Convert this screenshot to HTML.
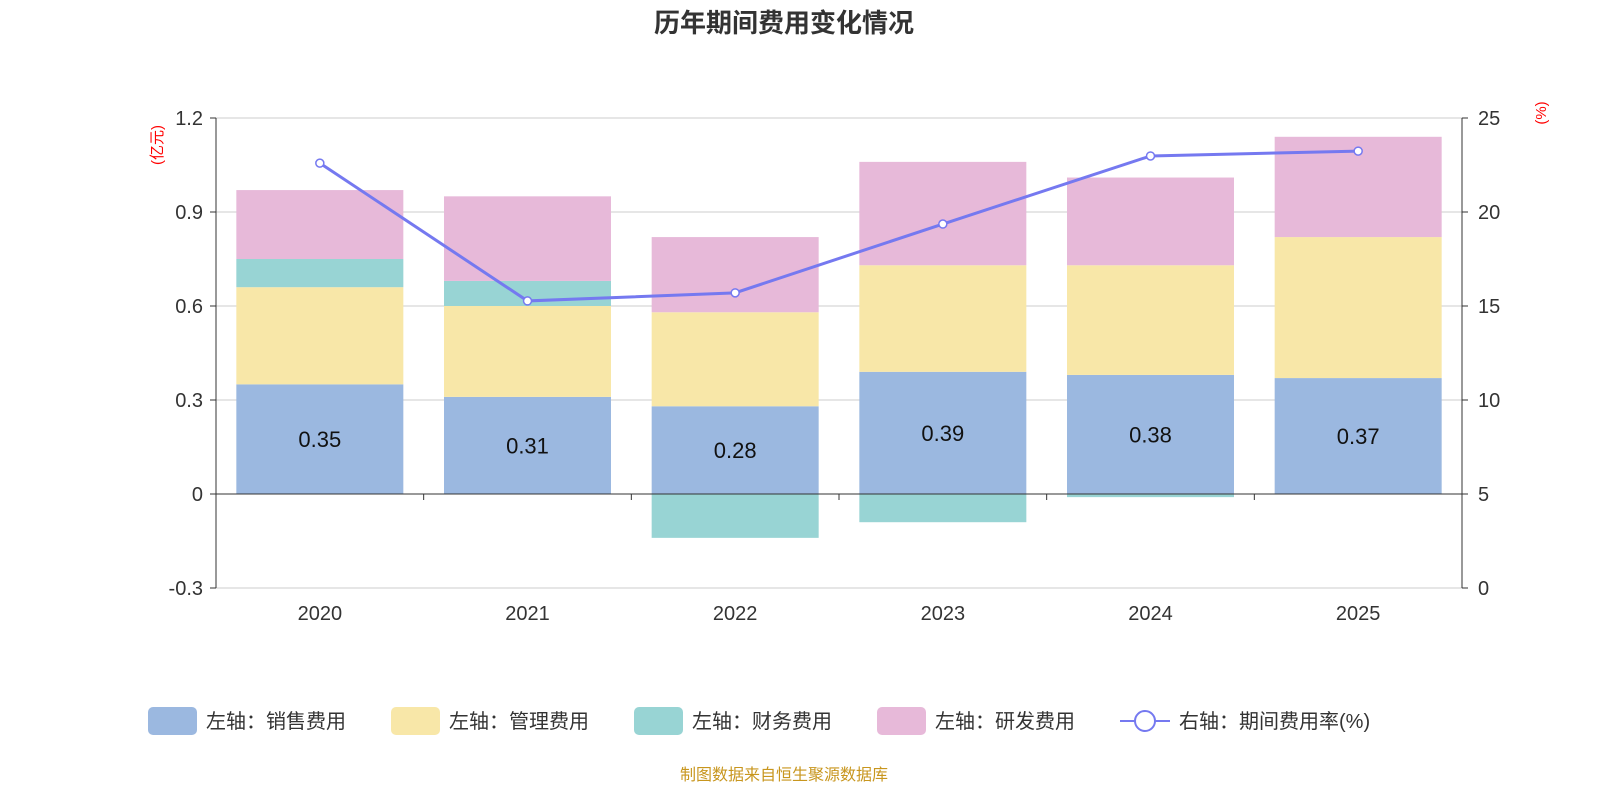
<!DOCTYPE html>
<html><head><meta charset="utf-8"><style>
body{margin:0;background:#fff;width:1600px;height:800px;overflow:hidden;font-family:"Liberation Sans","Noto Sans CJK SC",sans-serif}
</style></head><body>
<svg id="c" width="1600" height="800" font-family="Liberation Sans, Noto Sans CJK SC, sans-serif"></svg>
<script>
const categories=['2020','2021','2022','2023','2024','2025'];
const sales=[0.35,0.31,0.28,0.39,0.38,0.37];
const admin=[0.31,0.29,0.30,0.34,0.35,0.45];
const finance=[0.09,0.08,-0.14,-0.09,-0.01,0];
const rnd=[0.22,0.27,0.24,0.33,0.28,0.32];
const rate=[22.6,15.27,15.7,19.36,22.98,23.24];
const leftTicks=[-0.3,0,0.3,0.6,0.9,1.2];
const rightTicks=[0,5,10,15,20,25];
const svg=document.getElementById('c');const NS='http://www.w3.org/2000/svg';
function el(t,a,p){const e=document.createElementNS(NS,t);for(const k in a)e.setAttribute(k,a[k]);(p||svg).appendChild(e);return e;}
const X0=216,X1=1462,band=(X1-X0)/categories.length;
const yL=v=>494-v*(376/1.2);
const yR=v=>588-v*(470/25);
const xc=i=>X0+band*(i+0.5);
let t=el('text',{x:784,y:32,'text-anchor':'middle','font-size':26,'font-weight':'bold',fill:'#333'});t.textContent='历年期间费用变化情况';

leftTicks.forEach(v=>{const g=el('line',{x1:X0,x2:X1,y1:yL(v),y2:yL(v),stroke:'#ccc','stroke-width':1});
const tx=el('text',{x:203,y:yL(v)+7,'text-anchor':'end','font-size':20,fill:'#333'});tx.textContent=v===0?'0':String(v);});
rightTicks.forEach(v=>{el('line',{x1:X1,x2:X1+6,y1:yR(v),y2:yR(v),stroke:'#333'});const tx=el('text',{x:1478,y:yR(v)+7,'font-size':20,fill:'#333'});tx.textContent=v;});
el('line',{x1:X0,x2:X0,y1:118,y2:588,stroke:'#333'});el('line',{x1:X1,x2:X1,y1:118,y2:588,stroke:'#333'});
leftTicks.forEach(v=>el('line',{x1:X0-6,x2:X0,y1:yL(v),y2:yL(v),stroke:'#333'}));
let u=el('text',{x:162,y:145,'font-size':15,fill:'red',transform:'rotate(-90 162 145)','text-anchor':'middle'});u.textContent='(亿元)';
u=el('text',{x:1546,y:113,'font-size':15,fill:'red',transform:'rotate(-90 1546 113)','text-anchor':'middle'});u.textContent='(%)';
const colors=['#9bb8e0','#f8e7a8','#98d4d4','#e7b9d9'];const series=[sales,admin,finance,rnd];const bw=167;
categories.forEach((c,i)=>{let pos=0,neg=0;
series.forEach((s,k)=>{const v=s[i];if(v===0)return;let y0,y1;if(v>0){y0=pos;y1=pos+v;pos=y1;}else{y0=neg;y1=neg+v;neg=y1;}
const r=el('rect',{x:xc(i)-bw/2,width:bw,y:Math.min(yL(y0),yL(y1)),height:Math.abs(yL(y1)-yL(y0)),fill:colors[k]});});
const lb=el('text',{x:xc(i),y:(yL(0)+yL(sales[i]))/2+8,'text-anchor':'middle','font-size':22,fill:'#111'});lb.textContent=sales[i].toFixed(2);
const cl=el('text',{x:xc(i),y:620,'text-anchor':'middle','font-size':20,fill:'#333'});cl.textContent=c;});
el('line',{x1:X0,x2:X1,y1:yL(0),y2:yL(0),stroke:'#333'});
for(let i=0;i<=categories.length;i++)el('line',{x1:X0+band*i,x2:X0+band*i,y1:494,y2:500,stroke:'#333'});
const pl=el('polyline',{points:rate.map((v,i)=>xc(i)+','+yR(v)).join(' '),fill:'none',stroke:'#7579f0','stroke-width':3});
rate.forEach((v,i)=>{const p=el('circle',{cx:xc(i),cy:yR(v),r:4,fill:'#fff',stroke:'#7579f0','stroke-width':1.5});});
const leg=[['左轴：销售费用',148],['左轴：管理费用',391],['左轴：财务费用',634],['左轴：研发费用',877]];
leg.forEach((l,k)=>{const g=el('g',{});
el('rect',{x:l[1],y:707,width:49,height:28,rx:5,fill:colors[k]},g);const tx=el('text',{x:l[1]+58,y:728,'font-size':20,fill:'#333'},g);tx.textContent=l[0];});
const g=el('g',{});
el('line',{x1:1120,x2:1170,y1:721,y2:721,stroke:'#7579f0','stroke-width':2},g);el('circle',{cx:1145,cy:721,r:10,fill:'#fff',stroke:'#7579f0','stroke-width':2},g);
let lt=el('text',{x:1179,y:728,'font-size':20,fill:'#333'},g);lt.textContent='右轴：期间费用率(%)';
const s=el('text',{x:784,y:780,'text-anchor':'middle','font-size':16,fill:'#c8961e'});s.textContent='制图数据来自恒生聚源数据库';
</script></body></html>
